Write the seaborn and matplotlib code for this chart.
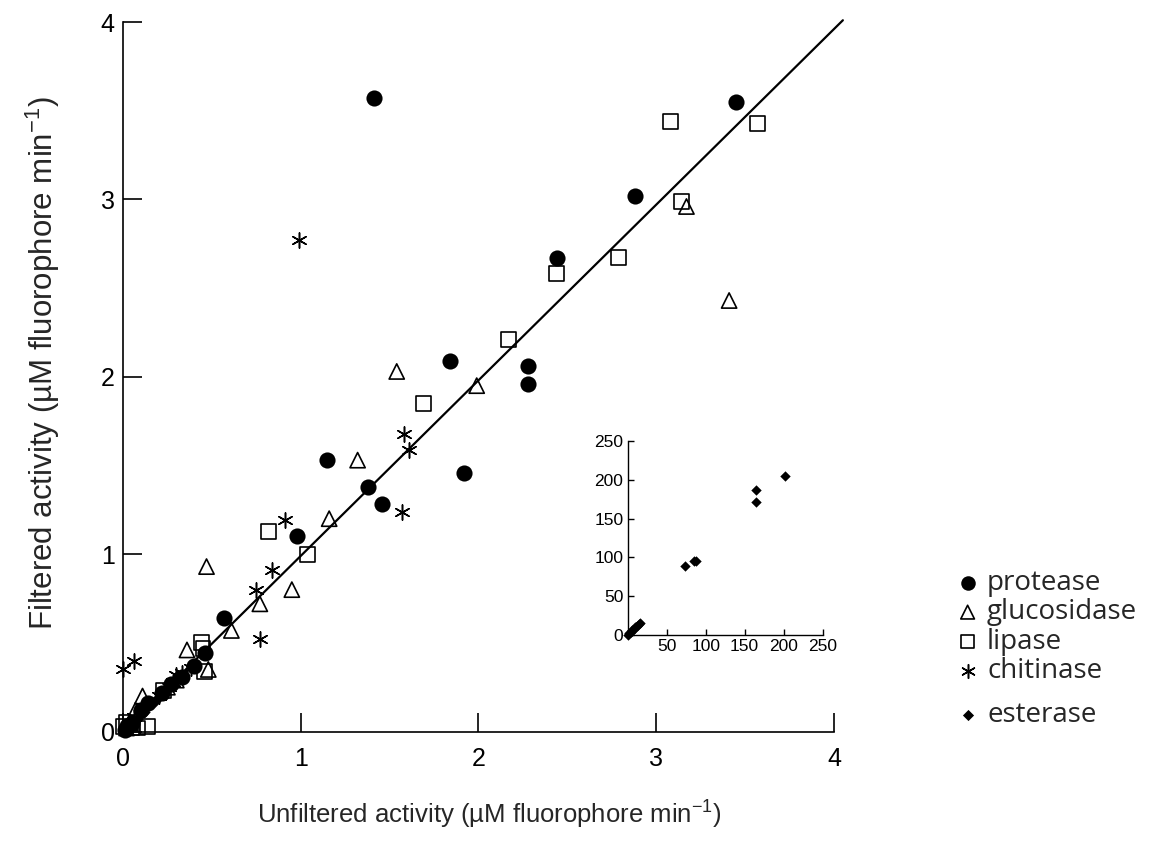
import numpy as np
import pandas as pd
import matplotlib
matplotlib.use("Agg")
import matplotlib.pyplot as plt
import seaborn as sns

# ---------------- data ----------------
protease_x = [1.41, 3.45, 2.88, 2.44, 1.84, 2.28, 2.28, 1.15, 1.92, 1.38, 1.46, 0.98, 0.57, 0.46,
              0.40, 0.33, 0.27, 0.22, 0.14, 0.10, 0.05, 0.02, 0.01]
protease_y = [3.57, 3.55, 3.02, 2.67, 2.09, 2.06, 1.96, 1.53, 1.46, 1.38, 1.28, 1.10, 0.64, 0.44,
              0.37, 0.31, 0.27, 0.22, 0.16, 0.12, 0.05, 0.03, 0.01]

glucosidase_x = [1.54, 1.99, 3.17, 3.41, 1.32, 1.16, 0.47, 0.95, 0.77, 0.61, 0.36, 0.48, 0.11,
                 0.07, 0.04, 0.25, 0.30, 0.02]
glucosidase_y = [2.03, 1.95, 2.96, 2.43, 1.53, 1.20, 0.93, 0.80, 0.72, 0.57, 0.46, 0.35, 0.20,
                 0.12, 0.05, 0.25, 0.29, 0.02]

lipase_x = [3.08, 3.57, 3.14, 2.44, 2.79, 2.17, 1.69, 0.82, 1.04, 0.44, 0.46, 0.14, 0.45,
            0.23, 0.05, 0.02, 0.08, 0.00]
lipase_y = [3.44, 3.43, 2.99, 2.58, 2.67, 2.21, 1.85, 1.13, 1.00, 0.50, 0.34, 0.03, 0.47,
            0.23, 0.02, 0.05, 0.02, 0.03]

chitinase_x = [0.99, 1.58, 1.61, 1.57, 0.91, 0.84, 0.75, 0.77, 0.00, 0.06,
               0.30, 0.33, 0.38, 0.28, 0.20, 0.26, 0.06]
chitinase_y = [2.77, 1.68, 1.59, 1.24, 1.19, 0.91, 0.80, 0.52, 0.35, 0.40,
               0.32, 0.33, 0.36, 0.28, 0.20, 0.25, 0.08]

esterase_x = [0.01, 0.03, 0.05, 0.08, 0.12, 0.18]
esterase_y = [0.01, 0.02, 0.04, 0.07, 0.11, 0.17]

# inset: esterase on the full scale
inset_x = [0, 2, 4, 6, 8, 10, 12, 14, 16, 74, 85, 88, 164, 165, 202]
inset_y = [0, 2, 4, 6, 8, 10, 12, 14, 16, 89, 95, 95, 171, 187, 205]

# 1:1 regression line end points
fit_x = [0.0, 4.05]
fit_y = [0.0, 4.01]

main_ticks = [0, 1, 2, 3, 4]
inset_xticks = [50, 100, 150, 200, 250]
inset_yticks = [0, 50, 100, 150, 200, 250]

# ---------------- style ----------------
sns.set_theme(style="ticks")
plt.rcParams["font.family"] = ["Liberation Sans", "DejaVu Sans"]
plt.rcParams["mathtext.fontset"] = "custom"
plt.rcParams["mathtext.rm"] = "Liberation Sans"
plt.rcParams["mathtext.default"] = "regular"

fig = plt.figure(figsize=(11.58, 8.57), dpi=100)
ax = fig.add_axes([0.1062, 0.1464, 0.6140, 0.8279])

def scatter(axis, x, y, marker, size, open_=False, label=None, lw=1.2):
    kw = dict(x=x, y=y, ax=axis, marker=marker, s=size, color="black", label=label,
              clip_on=False, zorder=3)
    if open_:
        kw.update(facecolor="none", edgecolor="black", linewidth=lw)
    elif marker in ("o", "D"):
        kw.update(edgecolor="black", linewidth=0)
    else:
        kw.update(linewidth=lw)
    sns.scatterplot(**kw)

scatter(ax, protease_x, protease_y, "o", 135, label="protease")
scatter(ax, glucosidase_x, glucosidase_y, "^", 120, open_=True, label="glucosidase")
scatter(ax, lipase_x, lipase_y, "s", 115, open_=True, label="lipase")
scatter(ax, chitinase_x, chitinase_y, (6, 2, 0), 120, label="chitinase", lw=1.1)
scatter(ax, esterase_x, esterase_y, "D", 40, label="esterase")

sns.lineplot(x=fit_x, y=fit_y, ax=ax, color="black", linewidth=1.6, clip_on=False,
             zorder=4, legend=False)

ax.set_xlim(0, 4)
ax.set_ylim(0, 4)
ax.set_xticks(main_ticks)
ax.set_yticks(main_ticks)
ax.set_xticklabels([str(t) for t in main_ticks])
ax.set_yticklabels([str(t) for t in main_ticks])
sns.despine(ax=ax)
for s in ("left", "bottom"):
    ax.spines[s].set_linewidth(1.2)
    ax.spines[s].set_color("black")
ax.tick_params(axis="both", direction="in", length=14, width=1.2, colors="black",
               labelsize=18)
ax.tick_params(axis="x", pad=11)
ax.tick_params(axis="y", pad=6)

ax.set_xlabel("Unfiltered activity (µM fluorophore min$^{-1}$)", fontsize=18.5)
ax.set_ylabel("Filtered activity (µM fluorophore min$^{-1}$)", fontsize=22.5)
ax.xaxis.set_label_coords(0.515, -0.118, transform=ax.transAxes)
ax.yaxis.set_label_coords(-0.112, 0.52, transform=ax.transAxes)
ax.xaxis.label.set_va("center")
ax.yaxis.label.set_va("center")

# legend to the right of the plot (esterase set slightly apart, as in the original)
handles, labels = ax.get_legend_handles_labels()
if ax.legend_ is not None:
    ax.legend_.remove()
legend_kw = dict(frameon=False, prop={"family": ["Open Sans", "DejaVu Sans"], "size": 20},
                 markerscale=0.9, handletextpad=0.2, labelspacing=0.05, handlelength=1.0,
                 borderaxespad=0, loc="upper left")
fig.legend(handles[:4], labels[:4], bbox_to_anchor=(0.814, 0.349), **legend_kw)
fig.legend(handles[4:], labels[4:], bbox_to_anchor=(0.814, 0.195), **legend_kw)

# ---------------- inset ----------------
iax = fig.add_axes([0.542, 0.259, 0.1684, 0.2264])
sns.scatterplot(x=inset_x, y=inset_y, ax=iax, marker="D", s=28, color="black",
                edgecolor="black", linewidth=0, clip_on=False, legend=False)
iax.set_xlim(0, 250)
iax.set_ylim(0, 250)
iax.set_xticks(inset_xticks)
iax.set_yticks(inset_yticks)
iax.set_facecolor("none")
sns.despine(ax=iax)
for s in ("left", "bottom"):
    iax.spines[s].set_linewidth(1.0)
    iax.spines[s].set_color("black")
iax.tick_params(axis="both", direction="in", length=4, width=1.0, colors="black",
                labelsize=12.5, pad=3)
iax.set_xlabel("")
iax.set_ylabel("")

fig.savefig("out.png", dpi=100)
